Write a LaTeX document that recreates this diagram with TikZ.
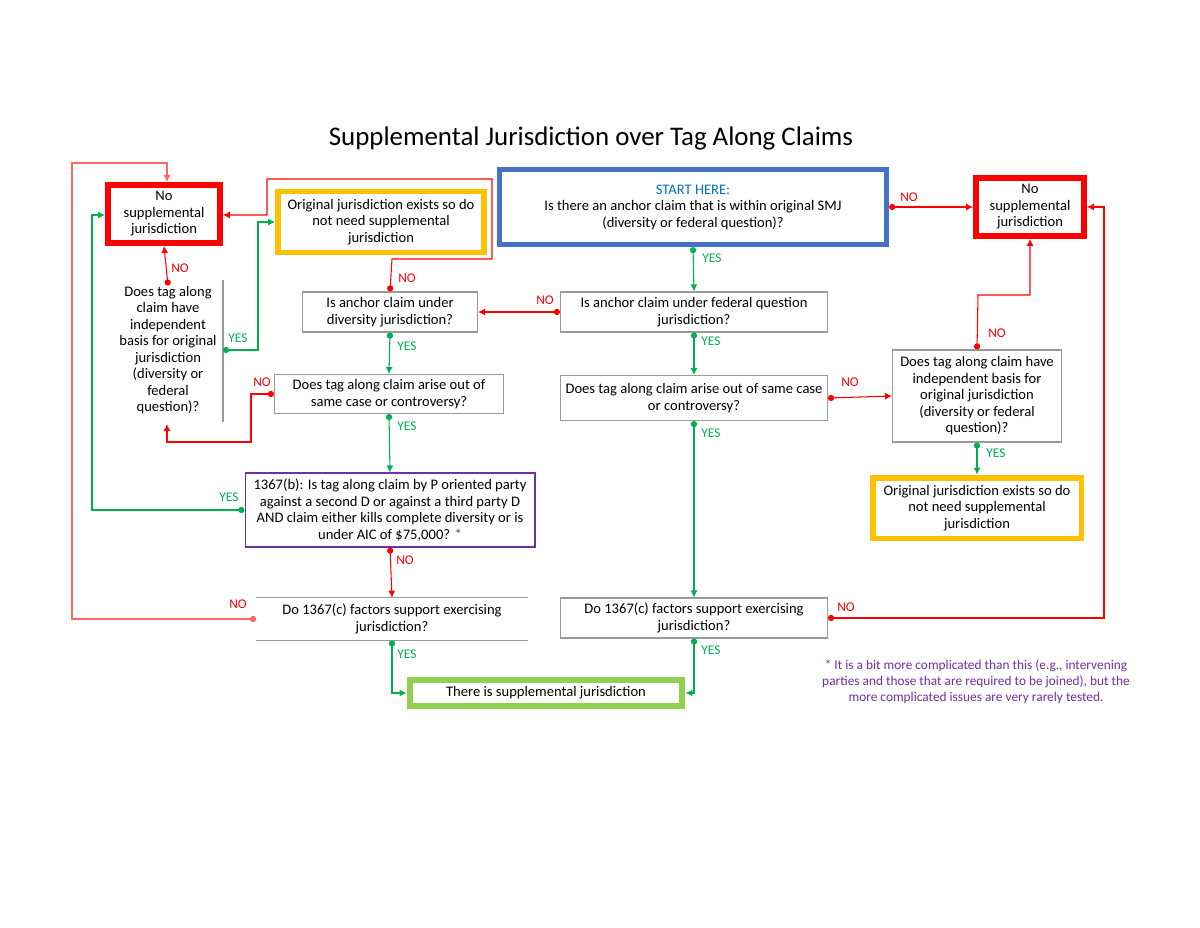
\documentclass[tikz,border=0pt]{standalone}
\usepackage{fontspec}
\setmainfont{Carlito}
\usetikzlibrary{arrows.meta}
\definecolor{cred}{HTML}{FF0000}
\definecolor{cgreen}{HTML}{00B050}
\definecolor{cyel}{HTML}{FFC000}
\definecolor{cblue}{HTML}{4472C4}
\definecolor{cblue2}{HTML}{0070C0}
\definecolor{cpur}{HTML}{7030A0}
\definecolor{clg}{HTML}{92D050}
\tikzset{
  box/.style={align=center,inner sep=0pt,font=\fontsize{8.3}{9.4}\selectfont},
  qbox/.style={box,draw=gray!80,line width=0.6pt},
  redbox/.style={box,draw=cred,line width=3.4pt},
  yelbox/.style={box,draw=cyel,line width=3.4pt},
  lab/.style={font=\fontsize{7.6}{8}\selectfont},
  nolab/.style={lab,text=cred},
  yeslab/.style={lab,text=cgreen},
  rline/.style={draw=cred,line width=0.6pt,{Circle[length=3.5pt]}-{Latex[length=4pt,width=4pt]}},
  gline/.style={draw=cgreen,line width=0.6pt,{Circle[length=3.5pt]}-{Latex[length=4pt,width=4pt]}},
}
\begin{document}
\begin{tikzpicture}[x=0.02cm,y=-0.02cm]
\useasboundingbox[fill=white] (0,0) rectangle (1200,927);
\node[font=\fontsize{15.3}{17}\selectfont] (title) at (591,138) {Supplemental Jurisdiction over Tag Along Claims};

\node[redbox,minimum width=2.24cm,minimum height=1.16cm] (nsl) at (164,214) {No\\supplemental\\jurisdiction};
\node[yelbox,minimum width=4.12cm,minimum height=1.22cm] (ol) at (381,222) {Original jurisdiction exists so do\\not need supplemental\\jurisdiction};
\node[box,draw=cblue,line width=3pt,minimum width=7.74cm,minimum height=1.5cm] (st) at (693,207) {\textcolor{cblue2}{START HERE:}\\Is there an anchor claim that is within original SMJ\\(diversity or federal question)?};
\node[redbox,minimum width=2.16cm,minimum height=1.16cm] (nsr) at (1030,207) {No\\supplemental\\jurisdiction};
\node[qbox,minimum width=3.5cm,minimum height=0.8cm] (div) at (390,312) {Is anchor claim under\\diversity jurisdiction?};
\node[qbox,minimum width=5.34cm,minimum height=0.8cm] (fed) at (694,312) {Is anchor claim under federal question\\jurisdiction?};
\node[box] (til) at (168,350) {Does tag along\\claim have\\independent\\basis for original\\jurisdiction\\(diversity or\\federal\\question)?};
\draw[gray!80,line width=0.6pt] (223,280) -- (223,422);
\coordinate (tily) at (223,350);
\node[qbox,minimum width=4.58cm,minimum height=0.78cm] (sl) at (389,394) {Does tag along claim arise out of\\same case or controversy?};
\node[qbox,minimum width=5.34cm,minimum height=0.9cm] (sr) at (694,398) {Does tag along claim arise out of same case\\or controversy?};
\node[qbox,minimum width=3.38cm,minimum height=1.84cm] (tir) at (977,396) {Does tag along claim have\\independent basis for\\original jurisdiction\\(diversity or federal\\question)?};
\node[yelbox,minimum width=4.18cm,minimum height=1.22cm] (or) at (977,508) {Original jurisdiction exists so do\\not need supplemental\\jurisdiction};
\node[box,draw=cpur,line width=0.6pt,minimum width=5.8cm,minimum height=1.48cm] (b) at (390,510) {1367(b): Is tag along claim by P oriented party\\against a second D or against a third party D\\AND claim either kills complete diversity or is\\under AIC of \$75,000? \textcolor{cpur}{*}};
\node[box,minimum width=5.42cm,minimum height=0.84cm] (cl) at (392,619) {Do 1367(c) factors support exercising\\jurisdiction?};
\draw[gray!80,line width=0.6pt] (cl.north west) -- (cl.north east) (cl.south west) -- (cl.south east);
\node[qbox,minimum width=5.34cm,minimum height=0.8cm] (cr) at (694,618) {Do 1367(c) factors support exercising\\jurisdiction?};
\node[box,draw=clg,line width=3.4pt,minimum width=5.46cm,minimum height=0.52cm] (sj) at (546,693) {There is supplemental jurisdiction};
\node[box,text=cpur,font=\fontsize{7.6}{9.2}\selectfont] (fn) at (976,682) {* It is a bit more complicated than this (e.g., intervening\\parties and those that are required to be joined), but the\\more complicated issues are very rarely tested.};

% connectors
\path[rline] (st.east) -- (nsr.west);
\node[nolab] (l1) at (909,197) {NO};
\path[gline] (st.south) -- (fed.north);
\node[yeslab] (l2) at (712,258) {YES};
\path[rline] (fed.west) -- (div.east);
\node[nolab] (l3) at (545,300) {NO};
\path[gline] (fed.south) -- (sr.north);
\node[yeslab] (l4) at (711,341) {YES};
\path[rline] (div.north) -- (392,259) -- (492,259) -- (492,179) -- (267,179) -- (267,215) -- (nsl.east |- 0,215);
\node[nolab] (l5) at (407,278) {NO};
\path[gline] (div.south) -- (sl.north);
\node[yeslab] (l6) at (407,346) {YES};
\path[rline] (sl.west) -- (251,394) -- (251,442) -- (167,442) -- (167,424);
\node[nolab] (l7) at (262,382) {NO};
\path[gline] (sl.south) -- (b.north);
\node[yeslab] (l8) at (407,426) {YES};
\path[rline] (til.north) -- (nsl.south);
\node[nolab] (l9) at (180,268) {NO};
\path[gline] (tily) -- (258,350) -- (258,222) -- (ol.west);
\node[yeslab] (l10) at (238,338) {YES};
\path[gline] (b.west) -- (92,510) -- (92,215) -- (nsl.west |- 0,215);
\node[yeslab] (l11) at (229,497) {YES};
\path[rline] (b.south) -- (cl.north);
\node[nolab] (l12) at (405,560) {NO};
\path[rline,draw=cred!60] (cl.west) -- (72,619) -- (72,163) -- (167,163) -- (nsl.north -| 167,0);
\node[nolab] (l13) at (238,604) {NO};
\path[gline] (cl.south) -- (392,693) -- (sj.west);
\node[yeslab] (l14) at (407,654) {YES};
\path[gline] (sr.south) -- (cr.north);
\node[yeslab] (l15) at (711,433) {YES};
\path[gline] (cr.south) -- (694,693) -- (sj.east);
\node[yeslab] (l16) at (711,650) {YES};
\path[rline] (cr.east) -- (1104,618) -- (1104,207) -- (nsr.east);
\node[nolab] (l17) at (846,607) {NO};
\path[rline] (sr.east) -- (tir.west);
\node[nolab] (l18) at (850,382) {NO};
\path[rline] (tir.north) -- (978,295) -- (1030,295) -- (nsr.south);
\node[nolab] (l19) at (997,333) {NO};
\path[gline] (tir.south) -- (or.north);
\node[yeslab] (l20) at (996,453) {YES};
\end{tikzpicture}
\end{document}
